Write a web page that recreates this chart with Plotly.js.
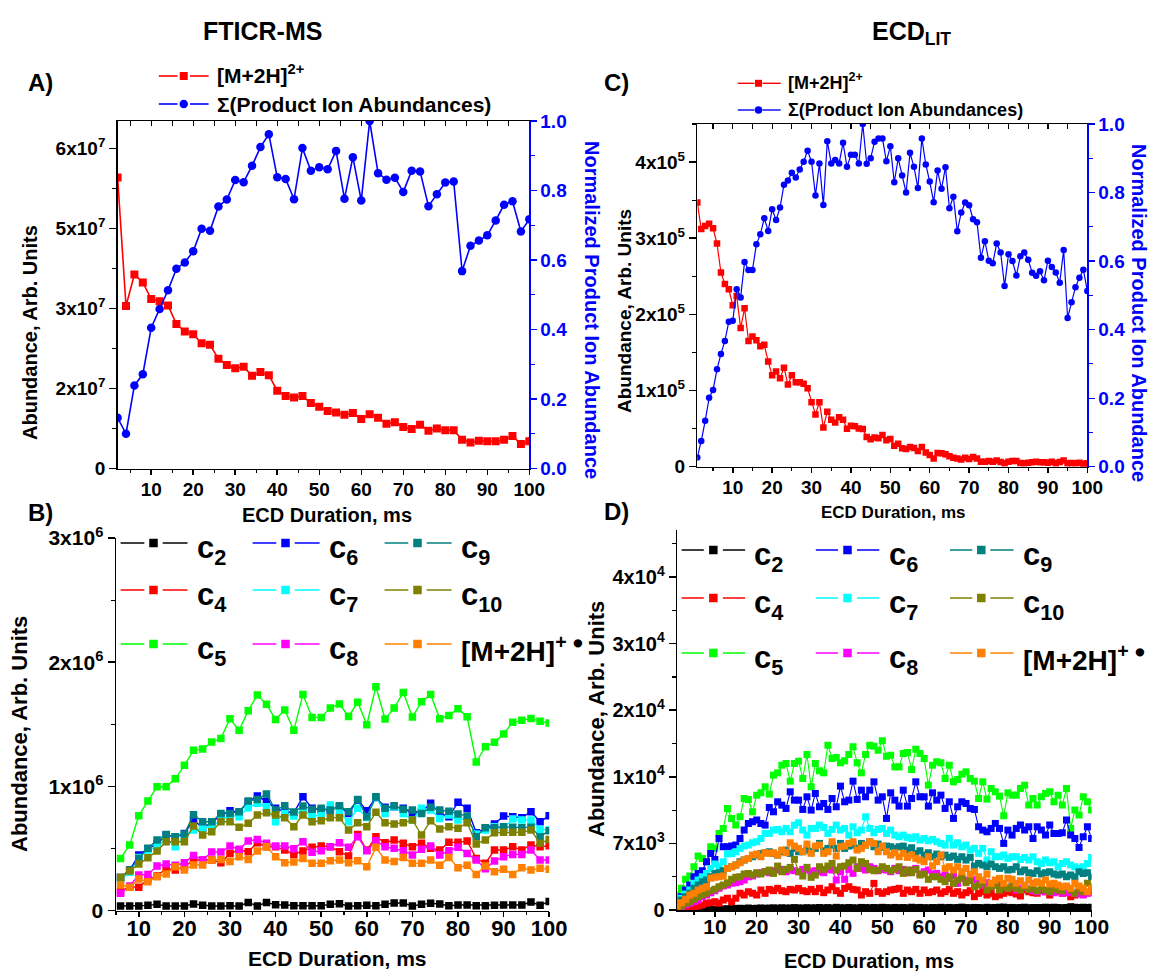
<!DOCTYPE html>
<html>
<head>
<meta charset="utf-8">
<script src="https://cdn.plot.ly/plotly-3.0.1.min.js"></script>
<style>
  html, body { margin: 0; padding: 0; background: #ffffff; }
  #chart { width: 1149px; height: 971px; }
</style>
</head>
<body>
<div id="chart"></div>
<script>
// ---------- Panel A: FTICR-MS, precursor decay and summed product ions ----------
const durA = [2,4,6,8,10,12,14,16,18,20,22,24,26,28,30,32,34,36,38,40,42,44,46,48,50,
              52,54,56,58,60,62,64,66,68,70,72,74,76,78,80,82,84,86,88,90,92,94,96,98,100];
const precursorA = [5.46e7,3.05e7,3.64e7,3.49e7,3.18e7,3.14e7,3.06e7,2.71e7,2.57e7,2.52e7,
                    2.35e7,2.32e7,2.06e7,1.94e7,1.88e7,1.91e7,1.74e7,1.81e7,1.75e7,1.46e7,
                    1.36e7,1.33e7,1.36e7,1.23e7,1.16e7,1.08e7,1.05e7,1.01e7,1.04e7,9.3e6,
                    1.02e7,9.5e6,8.4e6,8.7e6,7.8e6,7.4e6,8.2e6,7.1e6,7.5e6,7.2e6,
                    7.2e6,5.4e6,4.9e6,5.2e6,5.1e6,5.1e6,5.4e6,6.1e6,4.6e6,5.1e6];
const productsA = [0.146,0.100,0.239,0.271,0.405,0.459,0.513,0.575,0.593,0.625,
                   0.690,0.684,0.754,0.774,0.830,0.824,0.871,0.925,0.962,0.838,
                   0.833,0.775,0.922,0.857,0.867,0.861,0.914,0.776,0.896,0.771,
                   1.000,0.850,0.831,0.837,0.796,0.857,0.855,0.755,0.789,0.823,
                   0.826,0.568,0.641,0.656,0.671,0.714,0.759,0.769,0.682,0.717];

// ---------- Panel C: ECD in the linear ion trap ----------
const durC = [1,2,3,4,5,6,7,8,9,10,11,12,13,14,15,16,17,18,19,20,21,22,23,24,25,26,27,28,29,30,
              31,32,33,34,35,36,37,38,39,40,41,42,43,44,45,46,47,48,49,50,51,52,53,54,55,56,57,58,59,60,
              61,62,63,64,65,66,67,68,69,70,71,72,73,74,75,76,77,78,79,80,81,82,83,84,85,86,87,88,89,90,
              91,92,93,94,95,96,97,98,99,100];
const precursorC = [347e3,312e3,316e3,319e3,313e3,293e3,255e3,240e3,233e3,212e3,
                    224e3,182e3,208e3,165e3,171e3,166e3,158e3,160e3,138e3,120e3,
                    125e3,116e3,130e3,108e3,120e3,111e3,111e3,109e3,103e3,84.5e3,
                    68.7e3,84.5e3,51.6e3,72.2e3,61.7e3,58.2e3,64.8e3,61.7e3,49.9e3,53.8e3,
                    53.0e3,50.3e3,49.5e3,38.9e3,35.9e3,38.5e3,37.2e3,41.6e3,34.6e3,36.3e3,
                    27.6e3,30.2e3,24.1e3,23.2e3,25.8e3,24.5e3,20.6e3,25.8e3,18.8e3,15.3e3,
                    10.9e3,17.9e3,17.5e3,16.2e3,13.6e3,11.8e3,10.9e3,9.6e3,11.8e3,10.1e3,
                    12.7e3,10.9e3,6.6e3,6.6e3,7.4e3,6.6e3,8.3e3,6.1e3,4.4e3,6.6e3,
                    7.4e3,7.4e3,4.8e3,4.4e3,5.3e3,5.7e3,6.6e3,5.7e3,5.7e3,5.3e3,
                    6.6e3,4.4e3,6.1e3,8.3e3,4.4e3,4.8e3,4.4e3,5.3e3,3.9e3,4.4e3];
const productsC = [0.027,0.075,0.134,0.201,0.224,0.284,0.329,0.367,0.423,0.426,
                   0.518,0.494,0.597,0.574,0.574,0.649,0.678,0.725,0.688,0.751,
                   0.720,0.756,0.823,0.835,0.858,0.844,0.867,0.890,0.922,0.890,
                   0.791,0.885,0.764,0.950,0.885,0.895,0.885,0.945,0.875,0.910,
                   0.910,0.885,1.000,0.884,0.900,0.948,0.958,0.958,0.891,0.935,
                   0.830,0.900,0.850,0.800,0.916,0.875,0.813,0.958,0.882,0.832,
                   0.772,0.864,0.811,0.874,0.754,0.788,0.687,0.742,0.771,0.763,
                   0.722,0.713,0.610,0.658,0.601,0.594,0.651,0.625,0.527,0.620,
                   0.600,0.558,0.614,0.625,0.604,0.566,0.557,0.570,0.544,0.601,
                   0.583,0.567,0.537,0.632,0.434,0.480,0.524,0.551,0.575,0.513];

// ---------- Panel B: FTICR-MS c-ion and charge-reduced species ----------
const durB = [6,8,10,12,14,16,18,20,22,24,26,28,30,32,34,36,38,40,42,44,46,48,50,52,
              54,56,58,60,62,64,66,68,70,72,74,76,78,80,82,84,86,88,90,92,94,96,98,100];
const c2B  = [38e3,38e3,38e3,43e3,51e3,38e3,38e3,38e3,54e3,43e3,38e3,38e3,40e3,38e3,67e3,38e3,
              67e3,48e3,46e3,40e3,40e3,40e3,40e3,51e3,56e3,38e3,40e3,43e3,40e3,51e3,62e3,62e3,
              38e3,51e3,59e3,54e3,40e3,46e3,46e3,40e3,40e3,43e3,46e3,46e3,46e3,70e3,43e3,75e3];
const c4B  = [153e3,193e3,188e3,252e3,279e3,341e3,327e3,354e3,408e3,408e3,408e3,386e3,461e3,488e3,475e3,547e3,
              515e3,515e3,488e3,453e3,480e3,510e3,521e3,515e3,475e3,440e3,614e3,488e3,596e3,547e3,569e3,542e3,
              515e3,542e3,502e3,488e3,550e3,550e3,561e3,421e3,381e3,488e3,488e3,515e3,488e3,529e3,515e3,523e3];
const c5B  = [421e3,529e3,765e3,883e3,998e3,998e3,1063e3,1170e3,1291e3,1301e3,1358e3,1387e3,1545e3,1452e3,1610e3,1736e3,
              1661e3,1540e3,1615e3,1452e3,1741e3,1556e3,1556e3,1631e3,1664e3,1564e3,1677e3,1497e3,1803e3,1543e3,1631e3,1757e3,
              1559e3,1682e3,1741e3,1545e3,1572e3,1626e3,1562e3,1197e3,1320e3,1355e3,1422e3,1516e3,1532e3,1548e3,1524e3,1511e3];
const c6B  = [268e3,327e3,448e3,499e3,537e3,609e3,596e3,622e3,730e3,668e3,708e3,770e3,805e3,792e3,877e3,923e3,
              880e3,824e3,797e3,789e3,918e3,824e3,810e3,810e3,837e3,783e3,891e3,805e3,912e3,832e3,837e3,824e3,
              783e3,797e3,864e3,783e3,757e3,872e3,824e3,628e3,663e3,698e3,762e3,757e3,749e3,797e3,716e3,765e3];
const c7B  = [247e3,309e3,429e3,488e3,515e3,582e3,515e3,601e3,649e3,663e3,676e3,730e3,770e3,757e3,829e3,864e3,
              837e3,716e3,783e3,762e3,816e3,757e3,778e3,851e3,797e3,716e3,824e3,751e3,918e3,783e3,837e3,783e3,
              730e3,824e3,810e3,743e3,770e3,730e3,743e3,617e3,649e3,676e3,663e3,738e3,730e3,730e3,655e3,649e3];
const c8B  = [140e3,199e3,287e3,292e3,360e3,376e3,365e3,386e3,445e3,408e3,472e3,472e3,521e3,494e3,561e3,574e3,
              542e3,521e3,521e3,499e3,555e3,470e3,483e3,515e3,547e3,510e3,596e3,483e3,563e3,515e3,502e3,483e3,
              448e3,494e3,521e3,448e3,483e3,510e3,461e3,408e3,338e3,400e3,435e3,453e3,453e3,488e3,408e3,408e3];
const c9B  = [268e3,327e3,421e3,502e3,569e3,614e3,596e3,617e3,773e3,716e3,716e3,783e3,783e3,797e3,883e3,896e3,
              939e3,810e3,845e3,794e3,843e3,816e3,824e3,810e3,845e3,797e3,896e3,757e3,918e3,824e3,845e3,816e3,
              810e3,783e3,832e3,810e3,800e3,778e3,762e3,596e3,668e3,668e3,676e3,671e3,668e3,671e3,596e3,644e3];
const c10B = [268e3,319e3,376e3,427e3,480e3,555e3,555e3,555e3,682e3,609e3,636e3,716e3,716e3,671e3,703e3,770e3,
              789e3,770e3,749e3,676e3,770e3,716e3,724e3,749e3,749e3,649e3,708e3,676e3,792e3,708e3,698e3,708e3,
              730e3,609e3,724e3,657e3,676e3,663e3,708e3,537e3,569e3,628e3,631e3,631e3,631e3,649e3,542e3,574e3];
const radB = [207e3,188e3,255e3,233e3,274e3,295e3,354e3,327e3,368e3,368e3,408e3,413e3,397e3,435e3,413e3,480e3,
              515e3,435e3,386e3,392e3,421e3,381e3,381e3,402e3,408e3,386e3,402e3,354e3,510e3,408e3,397e3,429e3,
              381e3,381e3,408e3,365e3,429e3,346e3,365e3,292e3,360e3,314e3,333e3,292e3,346e3,327e3,341e3,333e3];

// ---------- Panel D: ECD(LIT) c-ion and charge-reduced species ----------
const durD = durC;
const c2D = [0,20,30,40,50,60,60,70,80,90,100,110,120,140,160,180,150,200,170,190,
             210,180,200,220,190,230,200,210,250,220,200,240,210,230,260,220,250,200,280,240,
             220,260,230,210,270,250,230,260,240,280,250,230,270,240,260,220,290,250,270,240,
             230,260,250,280,240,270,230,260,300,250,240,270,260,230,280,250,260,290,300,250,
             270,240,260,280,230,250,270,260,290,250,280,260,240,270,350,300,260,280,270,290];
const c4D = [70,70,140,175,350,420,525,700,770,875,700,1050,1225,875,1225,1750,1575,1925,1750,1575,
             2100,1750,2170,2030,2275,2030,1925,2170,2100,2275,2030,1925,2170,1925,2275,1820,2100,2450,2030,1750,
             2275,2450,2170,2100,1575,1925,1750,2800,1925,1750,1925,2100,2170,2275,1750,2100,1925,2170,1750,2100,
             1820,1925,2100,1750,1925,2170,1750,1925,1575,1820,2030,1400,1750,1925,1575,1750,1400,1575,1750,1925,
             1820,1680,1470,2100,1925,1820,1750,2030,1925,1575,2100,1925,1750,1820,1400,1575,2030,1750,1820,1925];
const c5D = [1575,2275,3220,3570,4550,5670,5425,5075,6650,6475,8050,8575,10675,9625,8925,9800,11725,11620,10325,12075,
             12320,12950,12180,14175,14420,15225,15400,13545,15400,15645,13825,16345,12950,15400,14630,14420,17325,15925,16030,15470,
             15680,16345,17150,15470,14420,16345,17325,17220,16800,17780,16170,16275,15050,15050,16450,16555,14770,16905,16450,15925,
             13125,15225,15575,15470,13825,15225,13475,13720,14280,14525,13825,13545,11725,13475,11655,12775,12425,11970,9905,12320,
             12075,12075,12775,13125,11025,11725,11025,11900,12250,12425,11375,12075,11025,12775,8575,10500,9975,11900,11375,10500];
const c6D = [875,1400,2100,2625,3500,3850,4130,5075,5950,5320,7525,6650,6650,6720,6825,7525,8400,9100,9275,9450,
             9100,8925,10780,10325,11375,11025,10675,12425,11550,11550,10570,11900,10500,12250,10850,11200,10570,11725,10850,13020,
             11375,11550,13545,11620,12600,11900,12600,13475,11550,11900,9625,12320,11550,10920,12600,10920,11725,13475,11900,11900,
             10920,12320,11550,12075,10675,11375,9625,10850,11375,11200,10675,10570,8750,8400,8225,8575,9100,8575,7000,8400,
             7875,8575,8925,8400,8750,7525,8750,8400,7875,8925,8050,8050,8120,9450,7875,7525,6580,7700,8750,7525];
const c7D = [770,1225,1680,2100,2800,3150,3500,3850,4375,4830,4550,5075,5880,5950,6125,6475,6720,6825,7070,7175,
             7525,8050,8050,8400,8470,8225,8575,8225,8925,9170,8400,7875,8575,8575,8925,8680,8050,8470,8925,8400,
             8575,7875,8750,8120,8400,9800,8575,8120,8470,8575,8050,8400,7875,7700,7875,7630,7525,7700,7350,7525,
             7280,7420,7175,7000,6825,7525,6825,7070,6650,6825,6300,6475,5950,6475,5250,6125,5600,5600,5775,5425,
             5600,5600,5320,5530,5250,5600,5075,4900,5250,4970,5075,4550,4900,5075,4725,4550,4375,4550,4900,5530];
const c8D = [175,350,525,700,875,1050,1400,1575,1820,2030,2275,2520,2625,2800,2870,2975,3150,3500,3570,3780,
             3920,4025,3920,4130,4200,4270,4025,4200,4130,4025,4270,4200,4025,4130,4025,3920,4270,4200,3150,4025,
             3220,4270,3850,4550,4375,4200,4550,4375,4130,4270,4200,4025,4375,4130,4270,3920,4200,4375,3780,4025,
             4200,3780,3850,3500,3675,3325,3570,2800,3325,3150,3080,3220,2800,2625,2870,2450,2625,2730,2450,2275,
             2520,2100,2275,2380,2170,2030,1925,2275,1925,2100,1820,2030,1750,1925,1820,1750,1680,1575,1750,1820];
const c9D = [525,1050,1400,1750,2275,2625,2975,3150,3500,3850,3920,4130,4375,4550,4725,5075,5250,5425,5600,5775,
             5950,6020,6125,5950,5775,6125,6300,5950,6475,6125,6125,6300,6125,6475,7000,6230,6475,6825,6475,7000,
             6475,6720,6825,6475,7000,6825,7175,6650,6930,6580,6720,6650,6475,6650,6720,6300,6545,5950,6230,5775,
             6020,5600,5880,5600,5775,5530,5670,5320,5600,5250,5530,4620,4900,4725,4550,4830,4550,4375,4550,4200,
             4270,4550,4025,4200,3920,3850,4130,3780,3920,4025,3780,3675,3780,3500,3675,3500,4025,3850,3920,3500];
const c10D = [175,420,700,875,1120,1400,1575,1750,2030,2170,2450,2625,2870,3220,3430,3500,3780,3850,3675,3920,
              3780,4025,4200,3850,4620,4025,4270,4480,5320,4025,3570,4480,3430,3675,4550,4270,4620,4900,4200,4550,
              4620,4970,5250,4375,5075,4900,4270,4130,4200,4550,4375,4130,4270,4550,3850,4200,3920,4270,3675,3780,
              3220,3500,3500,3220,2975,3500,2800,3150,3500,2870,3150,2450,2625,2870,2100,2450,2625,2100,2450,2275,
              2520,2275,2100,2450,2170,2275,2030,2450,2100,1925,2275,2100,2030,2450,2100,1750,2275,1925,2800,2450];
const radD = [420,770,1120,1575,1750,2100,2275,2450,3325,3430,3500,3570,4375,4550,4725,4970,5250,5425,5775,5880,
              5600,6020,5950,6020,5775,6300,6020,7070,6720,6475,6125,6930,5950,6720,6825,5950,6125,7175,5670,6650,
              6720,7000,7175,6300,6475,6825,7175,7000,6125,6720,6125,5775,6020,5600,5950,5530,5775,5425,5250,5075,
              5600,4620,5075,5775,4375,4550,4200,4550,4025,4375,3780,4025,3500,3150,3780,2800,3150,3325,2800,3325,
              3220,2800,3080,2625,3150,2800,2975,2800,3150,2730,2800,2625,2450,2520,2275,2800,2520,2275,1925,2275];

// ---------- tick labels ----------
const decadeTicks = [10,20,30,40,50,60,70,80,90,100];
const tickValsA = [0,1.5e7,3e7,4.5e7,6e7];
const tickTextA = ['0','2x10<sup>7</sup>','3x10<sup>7</sup>','5x10<sup>7</sup>','6x10<sup>7</sup>'];
const tickValsC = [0,1e5,2e5,3e5,4e5];
const tickTextC = ['0','1x10<sup>5</sup>','2x10<sup>5</sup>','3x10<sup>5</sup>','4x10<sup>5</sup>'];
const tickValsB = [0,1e6,2e6,3e6];
const tickTextB = ['0','1x10<sup>6</sup>','2x10<sup>6</sup>','3x10<sup>6</sup>'];
const tickValsD = [0,7000,14000,21000,28000,35000];
const tickTextD = ['0','7x10<sup>3</sup>','1x10<sup>4</sup>','2x10<sup>4</sup>','3x10<sup>4</sup>','4x10<sup>4</sup>'];
const normTicks = [0,0.2,0.4,0.6,0.8,1.0];

// ---------- series styling ----------
const ionSeries = [
  {name: 'c<sub>2</sub>',  color: '#000000', B: c2B,  D: c2D},
  {name: 'c<sub>4</sub>',  color: '#ff0000', B: c4B,  D: c4D},
  {name: 'c<sub>5</sub>',  color: '#00ff00', B: c5B,  D: c5D},
  {name: 'c<sub>6</sub>',  color: '#0000ff', B: c6B,  D: c6D},
  {name: 'c<sub>7</sub>',  color: '#00ffff', B: c7B,  D: c7D},
  {name: 'c<sub>8</sub>',  color: '#ff00ff', B: c8B,  D: c8D},
  {name: 'c<sub>9</sub>',  color: '#008080', B: c9B,  D: c9D},
  {name: 'c<sub>10</sub>', color: '#808000', B: c10B, D: c10D},
  {name: '[M+2H]<sup>+ ●</sup>', color: '#ff8000', B: radB, D: radD}
];

const W = 1149, H = 971;
const FONT = 'Liberation Sans, Arial, sans-serif';
const fx = p => p / W;
const fy = p => 1 - p / H;

const traces = [];
traces.push({x: durA, y: precursorA, xaxis: 'x', yaxis: 'y', mode: 'lines+markers', name: '[M+2H]2+',
  line: {color: '#ff0000', width: 1.6}, marker: {symbol: 'square', size: 8, color: '#ff0000'}});
traces.push({x: durA, y: productsA, xaxis: 'x', yaxis: 'y2', mode: 'lines+markers', name: 'Σ products',
  line: {color: '#0000ff', width: 1.6}, marker: {symbol: 'circle', size: 8.5, color: '#0000ff'}});
traces.push({x: durC, y: precursorC, xaxis: 'x2', yaxis: 'y3', mode: 'lines+markers', name: '[M+2H]2+',
  line: {color: '#ff0000', width: 1.2}, marker: {symbol: 'square', size: 6.5, color: '#ff0000'}});
traces.push({x: durC, y: productsC, xaxis: 'x2', yaxis: 'y4', mode: 'lines+markers', name: 'Σ products',
  line: {color: '#0000ff', width: 1.2}, marker: {symbol: 'circle', size: 6.5, color: '#0000ff'}});
// empty traces so the framing top axes of A and C get their own subplots
traces.push({x: [], y: [], xaxis: 'x5', yaxis: 'y', mode: 'markers', hoverinfo: 'skip'});
traces.push({x: [], y: [], xaxis: 'x6', yaxis: 'y3', mode: 'markers', hoverinfo: 'skip'});
ionSeries.forEach(s => {
  traces.push({x: durB, y: s.B, xaxis: 'x3', yaxis: 'y5', mode: 'lines+markers', name: s.name,
    line: {color: s.color, width: 1.4}, marker: {symbol: 'square', size: 7.5, color: s.color}});
});
ionSeries.forEach(s => {
  traces.push({x: durD, y: s.D, xaxis: 'x4', yaxis: 'y6', mode: 'lines+markers', name: s.name,
    line: {color: s.color, width: 1.1}, marker: {symbol: 'square', size: 7, color: s.color}});
});

function tf(size, color) { return {family: FONT, size: size, color: color || '#000000', weight: 'bold'}; }

function xAxis(domain, range, anchor, fontSize, standoff) {
  return {domain: domain, range: range, anchor: anchor, showline: true, linecolor: '#000000', linewidth: 1.5,
    ticks: 'outside', ticklen: 5, tickwidth: 1.5, tickcolor: '#000000', ticklabelstandoff: standoff,
    tickmode: 'array', tickvals: decadeTicks, ticktext: decadeTicks.map(String), tickfont: tf(fontSize),
    minor: {tickmode: 'linear', tick0: 0, dtick: 5, ticks: 'outside', ticklen: 3, tickwidth: 1.2, tickcolor: '#000000'},
    showgrid: false, zeroline: false, fixedrange: true};
}
function topAxis(over, range, anchor) {
  return {overlaying: over, anchor: anchor, side: 'top', range: range, showline: true, linecolor: '#000000', linewidth: 1.5,
    ticks: 'inside', ticklen: 5, tickwidth: 1.2, tickcolor: '#000000', tickmode: 'array', tickvals: decadeTicks,
    showticklabels: false,
    minor: {tickmode: 'linear', tick0: 0, dtick: 5, ticks: 'inside', ticklen: 5, tickwidth: 1.2, tickcolor: '#000000'},
    showgrid: false, zeroline: false, fixedrange: true};
}
function yAxis(domain, range, anchor, vals, text, minorStep, fontSize) {
  return {domain: domain, range: range, anchor: anchor, showline: true, linecolor: '#000000', linewidth: 1.5,
    ticks: 'outside', ticklen: 7, tickwidth: 1.5, tickcolor: '#000000',
    tickmode: 'array', tickvals: vals, ticktext: text, tickfont: tf(fontSize),
    minor: {tickmode: 'linear', tick0: 0, dtick: minorStep, ticks: 'outside', ticklen: 4, tickwidth: 1.2, tickcolor: '#000000'},
    showgrid: false, zeroline: false, fixedrange: true};
}
function rightAxis(over, anchor, fontSize) {
  return {overlaying: over, anchor: anchor, side: 'right', range: [0, 1], showline: true, linecolor: '#0000ff', linewidth: 1.2,
    ticks: 'outside', ticklen: 6, tickwidth: 1.2, tickcolor: '#0000ff',
    tickmode: 'array', tickvals: normTicks, ticktext: normTicks.map(v => v.toFixed(1)), tickfont: tf(fontSize, '#0000ff'),
    minor: {tickmode: 'linear', tick0: 0, dtick: 0.1, ticks: 'outside', ticklen: 4, tickwidth: 1.2, tickcolor: '#0000ff'},
    showgrid: false, zeroline: false, fixedrange: true};
}

const domA = {x: [fx(117.6), fx(529.3)], y: [fy(468.5), fy(121)]};
const domC = {x: [fx(697.3), fx(1087.3)], y: [fy(466.7), fy(124)]};
const domB = {x: [fx(116), fx(549.2)], y: [fy(910.7), fy(538)]};
const domD = {x: [fx(677.2), fx(1091.6)], y: [fy(910), fy(529.5)]};

const layout = {
  width: W, height: H, autosize: false, margin: {l: 0, r: 0, t: 0, b: 0},
  paper_bgcolor: '#ffffff', plot_bgcolor: 'rgba(0,0,0,0)', showlegend: false,
  font: {family: FONT, color: '#000000'},
  xaxis:  xAxis(domA.x, [2, 100], 'y', 19, -2),
  yaxis:  yAxis(domA.y, [0, 6.52e7], 'x', tickValsA, tickTextA, 7.5e6, 19),
  yaxis2: rightAxis('y', 'x', 19),
  xaxis5: topAxis('x', [2, 100], 'y'),
  xaxis2: xAxis(domC.x, [1, 100], 'y3', 19, -2),
  yaxis3: yAxis(domC.y, [0, 4.5e5], 'x2', tickValsC, tickTextC, 5e4, 19),
  yaxis4: rightAxis('y3', 'x2', 19),
  xaxis6: topAxis('x2', [1, 100], 'y3'),
  xaxis3: xAxis(domB.x, [5, 100], 'y5', 22, -8),
  yaxis5: yAxis(domB.y, [0, 3e6], 'x3', tickValsB, tickTextB, 5e5, 21),
  xaxis4: xAxis(domD.x, [1, 100], 'y6', 21, -8),
  yaxis6: yAxis(domD.y, [0, 40000], 'x4', tickValsD, tickTextD, 3500, 20),
  shapes: [],
  annotations: []
};

function note(text, x, y, size, opts) {
  layout.annotations.push(Object.assign({
    text: text, xref: 'paper', yref: 'paper', x: fx(x), y: fy(y), showarrow: false,
    xanchor: 'center', yanchor: 'middle', font: tf(size)
  }, opts || {}));
}

// titles and panel letters
note('FTICR-MS', 262, 31, 25);
note('ECD<sub>LIT</sub>', 911, 33, 25);
note('A)', 40, 82, 24);
note('C)', 616, 82, 24);
note('B)', 40, 512, 24);
note('D)', 616, 511, 24);

// axis titles
note('Abundance, Arb. Units', 30, 333, 20, {textangle: -90});
note('Normalized Product Ion Abundance', 592, 310, 20, {textangle: 90, font: tf(20, '#0000ff')});
note('ECD Duration, ms', 327, 515, 20);
note('Abundance, Arb. Units', 624, 311, 19, {textangle: -90});
note('Normalized Product Ion Abundance', 1139, 313, 20, {textangle: 90, font: tf(20, '#0000ff')});
note('ECD Duration, ms', 893, 512, 17);
note('Abundance, Arb. Units', 19, 734, 22, {textangle: -90});
note('ECD Duration, ms', 337, 958, 21);
note('Abundance, Arb. Units', 596, 719, 22, {textangle: -90});
note('ECD Duration, ms', 869, 961, 20);

// legend keys drawn as line - marker - line
function seg(x0, x1, y, color, w) {
  layout.shapes.push({type: 'line', xref: 'paper', yref: 'paper', x0: fx(x0), x1: fx(x1), y0: fy(y), y1: fy(y),
    line: {color: color, width: w}});
}
function key(x0, gapL, gapR, x1, y, color, size, shape, w) {
  seg(x0, gapL, y, color, w);
  seg(gapR, x1, y, color, w);
  const xm = (gapL + gapR) / 2, h = size / 2;
  layout.shapes.push({type: shape, xref: 'paper', yref: 'paper', x0: fx(xm - h), x1: fx(xm + h),
    y0: fy(y + h), y1: fy(y - h), fillcolor: color, line: {width: 0}});
}

// panel A legend
key(158.8, 177.5, 190, 208.6, 76, '#ff0000', 8, 'rect', 1.6);
key(158.8, 177.5, 190, 208.6, 104, '#0000ff', 8.5, 'circle', 1.6);
note('[M+2H]<sup>2+</sup>', 215, 74, 21, {xanchor: 'left'});
note('Σ(Product Ion Abundances)', 215, 104, 21, {xanchor: 'left'});

// panel C legend
key(737.8, 754.5, 762.5, 780.7, 83.3, '#ff0000', 7, 'rect', 1.4);
key(737.8, 754.5, 762.5, 780.7, 110, '#0000ff', 7.5, 'circle', 1.4);
note('[M+2H]<sup>2+</sup>', 785.7, 81, 18, {xanchor: 'left'});
note('Σ(Product Ion Abundances)', 785.7, 110, 18, {xanchor: 'left'});

// panel B and D legends: three columns of three entries
const gridOrder = [[0, 3, 6], [1, 4, 7], [2, 5, 8]];
const legB = {rows: [543, 590, 644], cols: [[120.6, 149.3, 157.7, 187.5, 195.2], [252.6, 281.3, 289.7, 319.6, 327.2], [384.6, 413.3, 421.7, 451.6, 459.2]]};
const legD = {rows: [550, 598, 653], cols: [[681.6, 708.8, 717.9, 745.1, 752.3], [815.8, 843, 852, 879.3, 886.6], [950, 977.3, 985.3, 1013.6, 1020.9]]};
[legB, legD].forEach(L => {
  gridOrder.forEach((row, r) => {
    row.forEach((idx, c) => {
      const s = ionSeries[idx];
      const col = L.cols[c];
      key(col[0], col[1] - 5, col[2] + 5, col[3], L.rows[r], s.color, 8.5, 'rect', 1.5);
      const isIon = idx < 8;
      note(s.name, col[4], L.rows[r] + (isIon ? 7 : 5), isIon ? 31 : 28, {xanchor: 'left'});
    });
  });
});

Plotly.newPlot('chart', traces, layout, {staticPlot: true, displayModeBar: false});
</script>
</body>
</html>
